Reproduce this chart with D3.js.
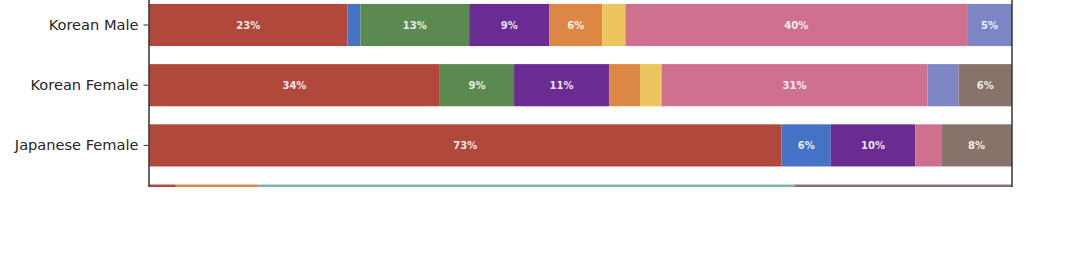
<!DOCTYPE html>
<html>
<head>
    <meta charset="utf-8">
    <style>
        body {
            margin: 0;
            background: #fff;
            font-family: 'DejaVu Sans', sans-serif;
        }

        svg {
            display: block;
        }

        .y .tick text {
            font-family: 'DejaVu Sans', sans-serif;
            font-size: 14.6px;
            fill: #262626;
        }

        .y .tick line {
            stroke: #333;
        }

        .y .domain {
            display: none;
        }

        .pct {
            font-family: 'DejaVu Sans', sans-serif;
            font-size: 10px;
            font-weight: bold;
            fill: rgba(255, 255, 255, 0.88);
        }
    </style>
</head>
<body>
    <svg width="1080" height="270"></svg>

<script src="https://d3js.org/d3.v7.min.js"></script>
<script>
    // rows, top to bottom (the last one is cut off by the crop)
    let categories = ["Korean Male", "Korean Female", "Japanese Female", "(cropped)"]
    let shownCategories = ["Korean Male", "Korean Female", "Japanese Female"]

    // segment keys, in stacking order
    let keys = ["red", "blue", "green", "purple", "orange", "yellow", "pink", "lavender", "teal", "brown"]

    let keyColors = [
        "#b0483c", // red
        "#4472c4", // blue
        "#5a8a4f", // green
        "#6a2b92", // purple
        "#dc8743", // orange
        "#ecc55f", // yellow
        "#d0708f", // pink
        "#7d86c4", // lavender
        "#7fb3ad", // teal
        "#87736a"  // brown
    ]

    // percent shares per row, same order as keys
    let koreanMale     = [23.0, 1.5, 12.6, 9.3, 6.1, 2.7, 39.6, 5.2, 0, 0]
    let koreanFemale   = [33.7, 0, 8.6, 11.0, 3.6, 2.5, 30.8, 3.6, 0, 6.2]
    let japaneseFemale = [73.3, 5.7, 0, 9.8, 0, 0, 3.0, 0, 0, 8.2]
    let croppedRow     = [3.1, 0, 0, 0, 9.6, 0, 0, 0, 62.1, 25.2]

    let xTicks = [0, 20, 40, 60, 80, 100]

    let rows = [koreanMale, koreanFemale, japaneseFemale, croppedRow]
    let data = categories.map((c, i) => {
        let o = { category: c }
        keys.forEach((k, j) => o[k] = rows[i][j])
        return o
    })

    let margin = { left: 149, right: 68 }
    let width = 1080
    let clipBottom = 187

    let svg = d3.select("svg")

    let x = d3.scaleLinear()
        .domain([xTicks[0], xTicks[xTicks.length - 1]])
        .range([margin.left, width - margin.right])

    let y = d3.scaleBand()
        .domain(categories)
        .range([-5.1, 235.7])
        .paddingInner(0.3)
        .paddingOuter(0.15)

    let color = d3.scaleOrdinal()
        .domain(keys)
        .range(keyColors)

    let series = d3.stack().keys(keys)(data)

    svg.append("clipPath")
        .attr("id", "plot-clip")
        .append("rect")
        .attr("x", 0)
        .attr("y", 0)
        .attr("width", width)
        .attr("height", clipBottom)

    let plot = svg.append("g")
        .attr("clip-path", "url(#plot-clip)")

    plot.selectAll("g.layer")
        .data(series)
        .join("g")
        .attr("class", "layer")
        .attr("fill", d => color(d.key))
        .selectAll("rect")
        .data(d => d)
        .join("rect")
        .attr("x", d => x(d[0]))
        .attr("width", d => x(d[1]) - x(d[0]))
        .attr("y", d => y(d.data.category))
        .attr("height", y.bandwidth())

    // value labels
    let labels = []
    series.forEach(s => s.forEach(d => {
        let v = d[1] - d[0]
        if (v >= 4.5) labels.push({ cx: (d[0] + d[1]) / 2, cat: d.data.category, v: v })
    }))

    plot.selectAll("text.pct")
        .data(labels)
        .join("text")
        .attr("class", "pct")
        .attr("x", d => x(d.cx))
        .attr("y", d => y(d.cat) + y.bandwidth() / 2)
        .attr("text-anchor", "middle")
        .attr("dy", "0.35em")
        .text(d => Math.round(d.v) + "%")

    // frame (left and right spines, cut by the crop)
    plot.append("line")
        .attr("x1", x.range()[0]).attr("x2", x.range()[0])
        .attr("y1", 0).attr("y2", clipBottom)
        .attr("stroke", "#333").attr("stroke-width", 1.5)

    plot.append("line")
        .attr("x1", x.range()[1]).attr("x2", x.range()[1])
        .attr("y1", 0).attr("y2", clipBottom)
        .attr("stroke", "#333").attr("stroke-width", 1.5)

    let yAxisSettings = d3.axisLeft(y)
        .tickValues(shownCategories)
        .tickSize(5)
        .tickPadding(5)

    svg.append("g")
        .attr("class", "y axis")
        .attr("transform", "translate(" + (margin.left - 0.5) + ",0)")
        .call(yAxisSettings)
        .call(g => g.selectAll(".domain").remove())
</script>
</body>
</html>
